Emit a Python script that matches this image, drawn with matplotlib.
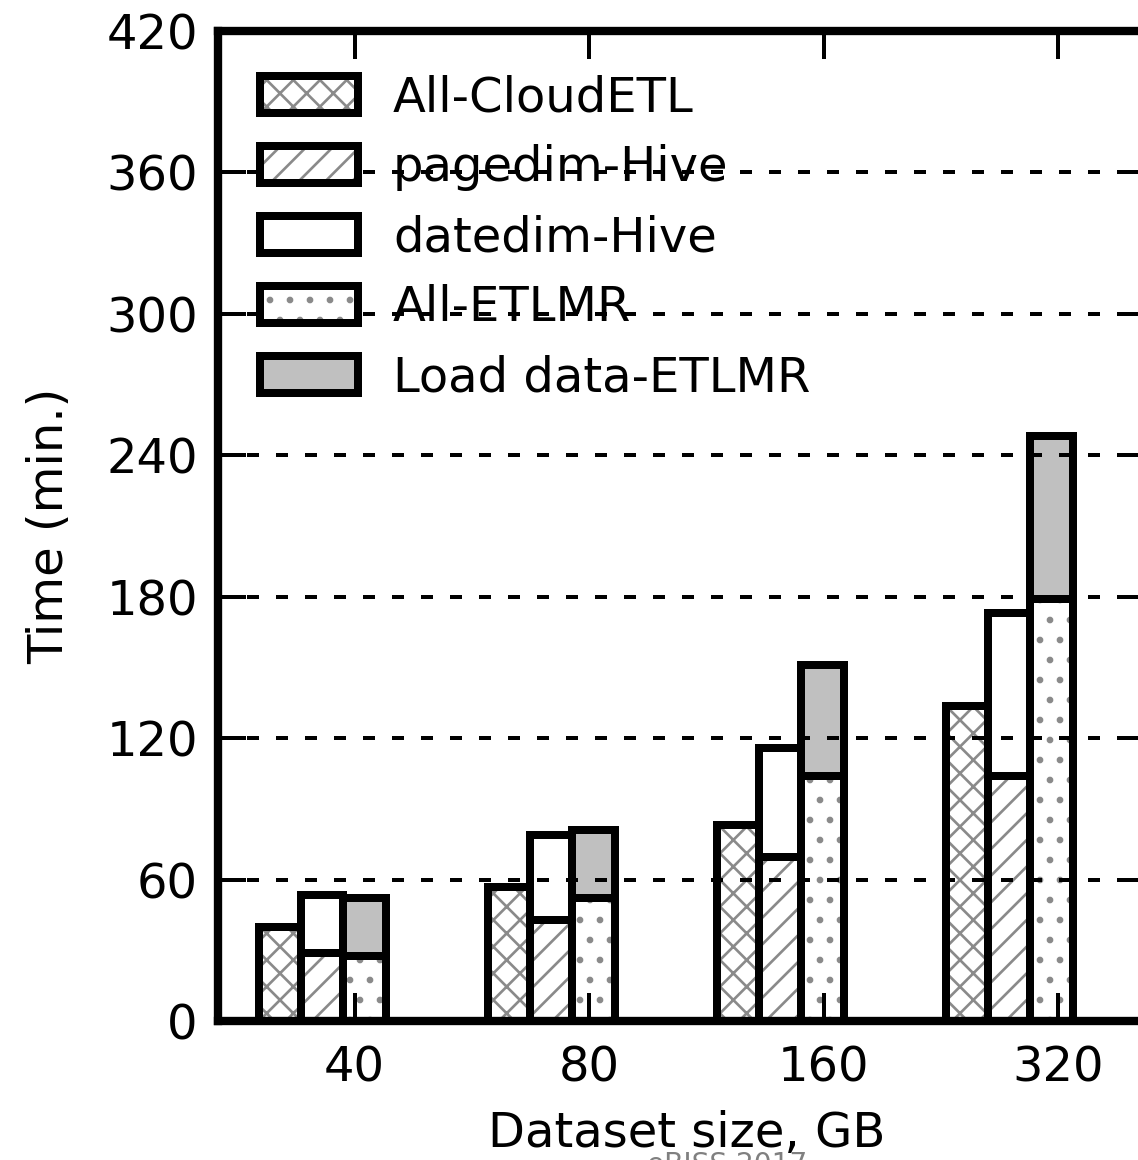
import matplotlib

matplotlib.use("Agg")
import matplotlib.pyplot as plt
import numpy as np
from matplotlib.legend_handler import HandlerTuple


SIZES = ["40", "80", "160", "320"]
ALL_CLOUDETL = [40, 57, 83, 133.5]
PAGEDIM_HIVE = [29, 43, 69.5, 104]
DATEDIM_HIVE = [24.5, 36, 46.5, 69]
ALL_ETLMR = [27.5, 52, 104, 179]
LOAD_DATA_ETLMR = [24.5, 29, 47, 69]
Y_TICKS = [0, 60, 120, 180, 240, 300, 360, 420]

LABELS = ["All-CloudETL", "pagedim-Hive", "datedim-Hive", "All-ETLMR", "Load data-ETLMR"]

DPI = 240
FONT_SIZE = 14.4
EDGE_WIDTH = 2.4
HATCH_GRAY = "#8a8a8a"
LOAD_GRAY = "#c0c0c0"
BAR_WIDTH = 0.18
GROUP_STEP = 0.9765
FIRST_OFFSET = -0.408


def draw_bar(ax, x, heights, bottom, hatch, face):
    # hatch in gray underneath, black outline on top
    fill = ax.bar(x, heights, BAR_WIDTH, bottom=bottom, align="edge", color=face,
                  hatch=hatch, edgecolor=HATCH_GRAY, linewidth=0, zorder=1)
    edge = ax.bar(x, heights, BAR_WIDTH, bottom=bottom, align="edge", fill=False,
                  edgecolor="black", linewidth=EDGE_WIDTH, zorder=1.2)
    return (fill.patches[0], edge.patches[0])


def main() -> None:
    plt.rcParams["font.family"] = ["DejaVu Sans"]
    plt.rcParams["hatch.linewidth"] = 0.8

    fig = plt.figure(figsize=(1138 / DPI, 1160 / DPI), dpi=DPI)
    ax = fig.add_axes([218 / 1138, 139 / 1160, 938 / 1138, 990 / 1160])

    left = FIRST_OFFSET + np.arange(len(SIZES)) * GROUP_STEP
    zeros = np.zeros(len(SIZES))

    handles = [
        draw_bar(ax, left, ALL_CLOUDETL, zeros, "xxx", "white"),
        draw_bar(ax, left + BAR_WIDTH, PAGEDIM_HIVE, zeros, "///", "white"),
        draw_bar(ax, left + BAR_WIDTH, DATEDIM_HIVE, np.array(PAGEDIM_HIVE), None, "white"),
        draw_bar(ax, left + 2 * BAR_WIDTH, ALL_ETLMR, zeros, "..", "white"),
        draw_bar(ax, left + 2 * BAR_WIDTH, LOAD_DATA_ETLMR, np.array(ALL_ETLMR), None, LOAD_GRAY),
    ]

    ax.set_xlim(-0.583, 3.417)
    ax.set_ylim(0, 420)
    ax.set_xticks(range(len(SIZES)))
    ax.set_xticklabels(SIZES)
    ax.set_yticks(Y_TICKS)
    ax.set_axisbelow(False)
    ax.yaxis.grid(True, color="black", linestyle=(0, (3, 4.25)), linewidth=1.2)

    ax.tick_params(direction="in", length=8.4, width=1.2, top=True, right=True,
                   labelsize=FONT_SIZE, colors="black")
    ax.tick_params(axis="x", pad=7)
    ax.tick_params(axis="y", pad=6)
    for spine in ax.spines.values():
        spine.set_linewidth(2.5)

    ax.set_xlabel("Dataset size, GB", fontsize=FONT_SIZE, labelpad=5.5)
    ax.set_ylabel("Time (min.)", fontsize=FONT_SIZE, labelpad=10)

    ax.legend(handles, LABELS, handler_map={tuple: HandlerTuple(ndivide=1)},
              loc="upper left", bbox_to_anchor=(0.0448, 0.9565), borderaxespad=0,
              borderpad=0, frameon=False, handlelength=2.04, handleheight=0.83,
              handletextpad=0.73, labelspacing=0.48, fontsize=FONT_SIZE)

    fig.text(727 / 1138, 1 - 1151 / 1160, "eBISS 2017", color="#808080",
             fontsize=8.4, ha="center", va="top")

    fig.savefig("out.png", dpi=DPI)
    plt.close(fig)


if __name__ == "__main__":
    main()
